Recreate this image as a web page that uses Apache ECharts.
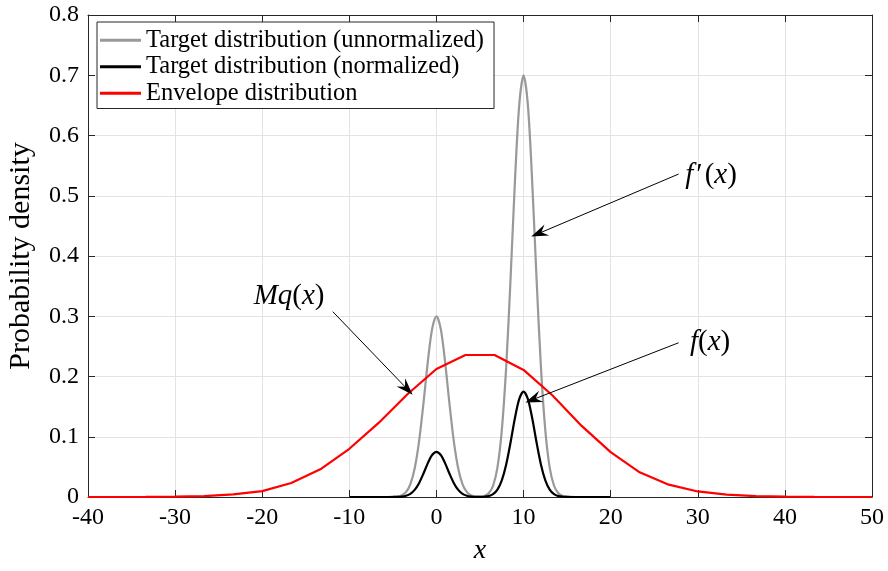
<!DOCTYPE html>
<html><head><meta charset="utf-8">
<script src="https://cdn.jsdelivr.net/npm/echarts@6/dist/echarts.min.js"></script>
<style>html,body{margin:0;padding:0;background:#fff}#c{width:888px;height:571px}</style>
</head><body><div id="c"></div>
<script>
// Sampling grid for the target densities
const xsTarget = [-10,-9.5,-9,-8.5,-8,-7.5,-7,-6.5,-6,-5.5,-5,-4.5,-4,-3.5,-3,-2.5,-2,-1.5,-1,-0.5,
  0,0.5,1,1.5,2,2.5,3,3.5,4,4.5,5,5.5,6,6.5,7,7.5,8,8.5,9,9.5,
  10,10.5,11,11.5,12,12.5,13,13.5,14,14.5,15,15.5,16,16.5,17,17.5,18,18.5,19,19.5,20];
const targetUnnorm = [0,0,0,0,0,0,0,0.000001,0.000007,0.000039,0.000184,0.00075,0.00264,0.0080,0.02093,0.04722,0.09186,0.15417,0.22317,0.27861,
  0.3,0.27861,0.22317,0.15417,0.09186,0.04722,0.02093,0.0080,0.00266,0.00084,0.00061,0.00179,0.00616,0.01867,0.04885,0.1102,0.2143,0.3597,0.5207,0.6501,
  0.7,0.6501,0.5207,0.3597,0.2143,0.1102,0.04885,0.01867,0.00616,0.00175,0.00043,0.00009,0.00002,0,0,0,0,0,0,0,0];
const targetNorm = [0,0,0,0,0,0,0,0,0.000002,0.00001,0.000046,0.00019,0.00066,0.0020,0.00523,0.0118,0.02297,0.03854,0.05579,0.06965,
  0.075,0.06965,0.05579,0.03854,0.02297,0.0118,0.00523,0.0020,0.00067,0.00021,0.00015,0.00045,0.00154,0.00467,0.01221,0.02755,0.05358,0.08993,0.13018,0.16253,
  0.175,0.16253,0.13018,0.08993,0.05358,0.02755,0.01221,0.00467,0.00154,0.00044,0.00011,0.00002,0.000005,0,0,0,0,0,0,0,0];
// Envelope M q(x)
const xsEnv = [-40,-36.67,-33.33,-30,-26.67,-23.33,-20,-16.67,-13.33,-10,-6.67,-3.33,0,3.33,6.67,10,13.33,16.67,20,23.33,26.67,30,33.33,36.67,40,43.33,46.67,50];
const envelope = [0.00001,0.00004,0.00015,0.00052,0.00159,0.00432,0.0098,0.0233,0.046,0.080,0.1225,0.1705,0.2125,0.2357,0.2357,0.2109,0.1685,0.118,0.0745,0.041,0.0205,0.0092,0.0038,0.0014,0.0005,0.00015,0.00004,0.00001];

const seriesNames = ['Target distribution (unnormalized)','Target distribution (normalized)','Envelope distribution'];
const xTicks = {min:-40, max:50, interval:10};
const yTicks = {min:0, max:0.8, interval:0.1};

// Annotations (data coordinates)
const annTexts = [
  {coord:[31.52,0.5344], text:'{i|f}{p|\u2032}{r|(}{i|x}{r|)}'},
  {coord:[31.41,0.2573], text:'{i|f}{r|(}{i|x}{r|)}'},
  {coord:[-16.92,0.3336], text:'{i|Mq}{r|(}{i|x}{r|)}'}
];
const annArrows = [
  [[27.8,0.536],[11.78,0.4377]],
  [[27.8,0.256],[11.12,0.162]],
  [[-11.9,0.3076],[-3.41,0.180]]
];

const FONT = '"Liberation Serif", "Times New Roman", serif';
const AX = '#262626';
const arrowPath = 'path://M6,0 L12,17 L6,11 L0,17 Z';

const chart = echarts.init(document.getElementById('c'), null, {renderer:'canvas'});
const pair = (xs, ys) => xs.map((x,i)=>[x, ys[i]]);

function axisCommon(){
  return {
    axisLine:{show:true, onZero:false, lineStyle:{color:AX, width:1}},
    axisTick:{show:true, inside:true, length:7, lineStyle:{color:AX, width:1}},
  };
}

chart.setOption({
  animation:false,
  backgroundColor:'#fff',
  textStyle:{fontFamily:FONT},
  grid:{left:88, right:16, top:15, bottom:74, containLabel:false, outerBoundsMode:'none'},
  legend:{
    show:true, orient:'vertical', left:97, top:22,
    selectedMode:false,
    icon:'rect',
    itemWidth:41, itemHeight:3, itemGap:0,
    padding:[5,10,2,3],
    backgroundColor:'#fff', borderColor:'#262626', borderWidth:1,
    textStyle:{fontFamily:FONT, fontSize:24.5, color:'#000', lineHeight:26.5},
    data:seriesNames
  },
  xAxis:[
    Object.assign({type:'value', position:'bottom', min:xTicks.min, max:xTicks.max, interval:xTicks.interval,
      name:'x', nameLocation:'middle', nameGap:40,
      nameTextStyle:{fontFamily:FONT, fontSize:28, fontStyle:'italic', color:'#000'},
      axisLabel:{show:true, margin:9, fontFamily:FONT, fontSize:24, color:'#000', formatter:v=>String(v)},
      splitLine:{show:true, lineStyle:{color:'#e3e3e3', width:1}}
    }, axisCommon()),
    Object.assign({type:'value', position:'top', min:xTicks.min, max:xTicks.max, interval:xTicks.interval,
      axisLabel:{show:false}, splitLine:{show:false}}, axisCommon())
  ],
  yAxis:[
    Object.assign({type:'value', position:'left', min:yTicks.min, max:yTicks.max, interval:yTicks.interval,
      name:'Probability density', nameLocation:'middle', nameGap:52,
      nameTextStyle:{fontFamily:FONT, fontSize:30, color:'#000'},
      axisLabel:{show:true, margin:9, fontFamily:FONT, fontSize:24, color:'#000',
        formatter:v=> v===0 ? '0' : v.toFixed(1)},
      splitLine:{show:true, lineStyle:{color:'#e3e3e3', width:1}}
    }, axisCommon()),
    Object.assign({type:'value', position:'right', min:yTicks.min, max:yTicks.max, interval:yTicks.interval,
      axisLabel:{show:false}, splitLine:{show:false}}, axisCommon())
  ],
  series:[
    {name:seriesNames[0], type:'line', data:pair(xsTarget,targetUnnorm), symbol:'none', smooth:0.3,
      lineStyle:{color:'#999999', width:2.2}, itemStyle:{color:'#999999'}, z:2},
    {name:seriesNames[1], type:'line', data:pair(xsTarget,targetNorm), symbol:'none', smooth:0.3,
      lineStyle:{color:'#000000', width:2.2}, itemStyle:{color:'#000000'}, z:3},
    {name:seriesNames[2], type:'line', data:pair(xsEnv,envelope), symbol:'none',
      lineStyle:{color:'#ff0000', width:2.2}, itemStyle:{color:'#ff0000'}, z:4,
      markLine:{
        silent:true, animation:false,
        symbol:['none', arrowPath],
        lineStyle:{color:'#000', width:1, type:'solid'},
        label:{show:false},
        emphasis:{disabled:true},
        data: annArrows.map(a=>[{coord:a[0], symbol:'none'}, {coord:a[1], symbol:arrowPath, symbolSize:[12,17]}])
      },
      markPoint:{
        silent:true, animation:false,
        symbol:'circle', symbolSize:0,
        itemStyle:{color:'transparent'},
        label:{show:true, position:'inside', color:'#000',
          rich:{
            i:{fontFamily:FONT, fontStyle:'italic', fontSize:29, color:'#000'},
            r:{fontFamily:FONT, fontSize:29, color:'#000'},
            p:{fontFamily:FONT, fontSize:29, color:'#000', padding:[0,2,0,3]}
          }},
        data: annTexts.map(t=>({coord:t.coord, value:0, label:{formatter:t.text}}))
      }
    }
  ]
});
</script></body></html>
